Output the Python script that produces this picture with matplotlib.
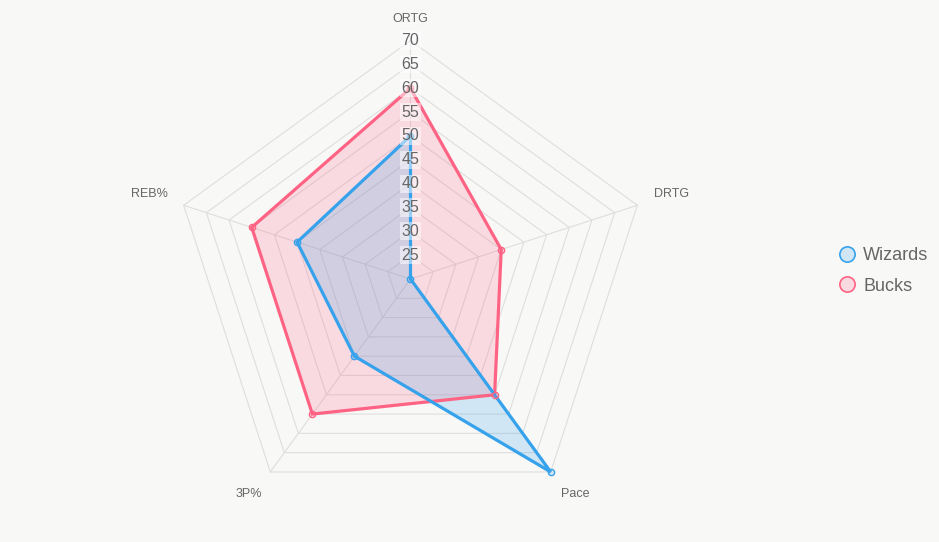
import numpy as np
import matplotlib
matplotlib.use('Agg')
import matplotlib.pyplot as plt
from matplotlib.lines import Line2D

plt.rcParams['font.family'] = ['Liberation Sans', 'DejaVu Sans']

labels = ['ORTG', 'DRTG', 'Pace', '3P%', 'REB%']
wizards = [50, 20, 70, 40, 45]
bucks = [60, 40, 50, 55, 55]
ticks = [25, 30, 35, 40, 45, 50, 55, 60, 65, 70]
scale_min = 20
scale_max = 70

bg = '#f8f8f7'
fig = plt.figure(figsize=(9.39, 5.42), dpi=100, facecolor=bg)
ax = fig.add_axes([0, 0, 1, 1])
ax.set_facecolor(bg)
ax.axis('off')

# pixel placement of the radar centre and radius
cx, cy, rad = 410.5, 263.0, 238.5
ppu = rad / (scale_max - scale_min)
ax.set_xlim(-cx / ppu, (939 - cx) / ppu)
ax.set_ylim(-cy / ppu, (542 - cy) / ppu)

n = len(labels)
ang = np.pi / 2 - np.arange(n) * 2 * np.pi / n


def xy(vals):
    r = np.array(vals, dtype=float) - scale_min
    x = r * np.cos(ang)
    y = r * np.sin(ang)
    return np.append(x, x[0]), np.append(y, y[0])


grid_c = '#dedede'
R = scale_max - scale_min
for a in ang:
    ax.plot([0, R * np.cos(a)], [0, R * np.sin(a)], color=grid_c, lw=0.8, zorder=1)
for t in ticks:
    gx, gy = xy([t] * n)
    ax.plot(gx, gy, color=grid_c, lw=0.8, zorder=1)

series = [('Bucks', bucks, '#ff6384', (1.0, 0.388, 0.518, 0.2)),
          ('Wizards', wizards, '#36a2eb', (0.212, 0.635, 0.922, 0.2))]
for name, vals, col, fillc in series:
    sx, sy = xy(vals)
    ax.fill(sx, sy, color=fillc, lw=0, zorder=2)
for name, vals, col, fillc in series:
    sx, sy = xy(vals)
    ax.plot(sx, sy, color=col, lw=2.3, zorder=3, solid_joinstyle='miter')
    ax.plot(sx[:-1], sy[:-1], 'o', ms=4.5, mfc=fillc, mec=col, mew=1, zorder=4)

for t in ticks:
    ax.text(0, t - scale_min, str(t), ha='center', va='center', fontsize=11.5,
            color='#666666', zorder=5,
            bbox=dict(boxstyle='square,pad=0.1', fc=(1, 1, 1, 0.5), ec='none'))

offs = [(0, 21, 'center'), (17, 11, 'left'), (10, -22, 'left'),
        (-8, -22, 'right'), (-16, 11, 'right')]
for lab, a, (dx, dy, ha) in zip(labels, ang, offs):
    ax.annotate(lab, (R * np.cos(a), R * np.sin(a)), xytext=(dx, dy),
                textcoords='offset pixels', ha=ha, va='center',
                fontsize=9, color='#666666')

handles = [Line2D([], [], ls='none', marker='o', ms=11, mfc=(0.212, 0.635, 0.922, 0.2),
                  mec='#36a2eb', mew=1.2, label='Wizards'),
           Line2D([], [], ls='none', marker='o', ms=11, mfc=(1.0, 0.388, 0.518, 0.2),
                  mec='#ff6384', mew=1.2, label='Bucks')]
leg = fig.legend(handles=handles, loc='center left', bbox_to_anchor=(829 / 939, 1 - 271 / 542),
                 frameon=False, fontsize=13, handlelength=1.0, handletextpad=0.4,
                 labelspacing=0.75, borderpad=0)
for txt in leg.get_texts():
    txt.set_color('#666666')

fig.savefig('out.png', dpi=100, facecolor=bg)
